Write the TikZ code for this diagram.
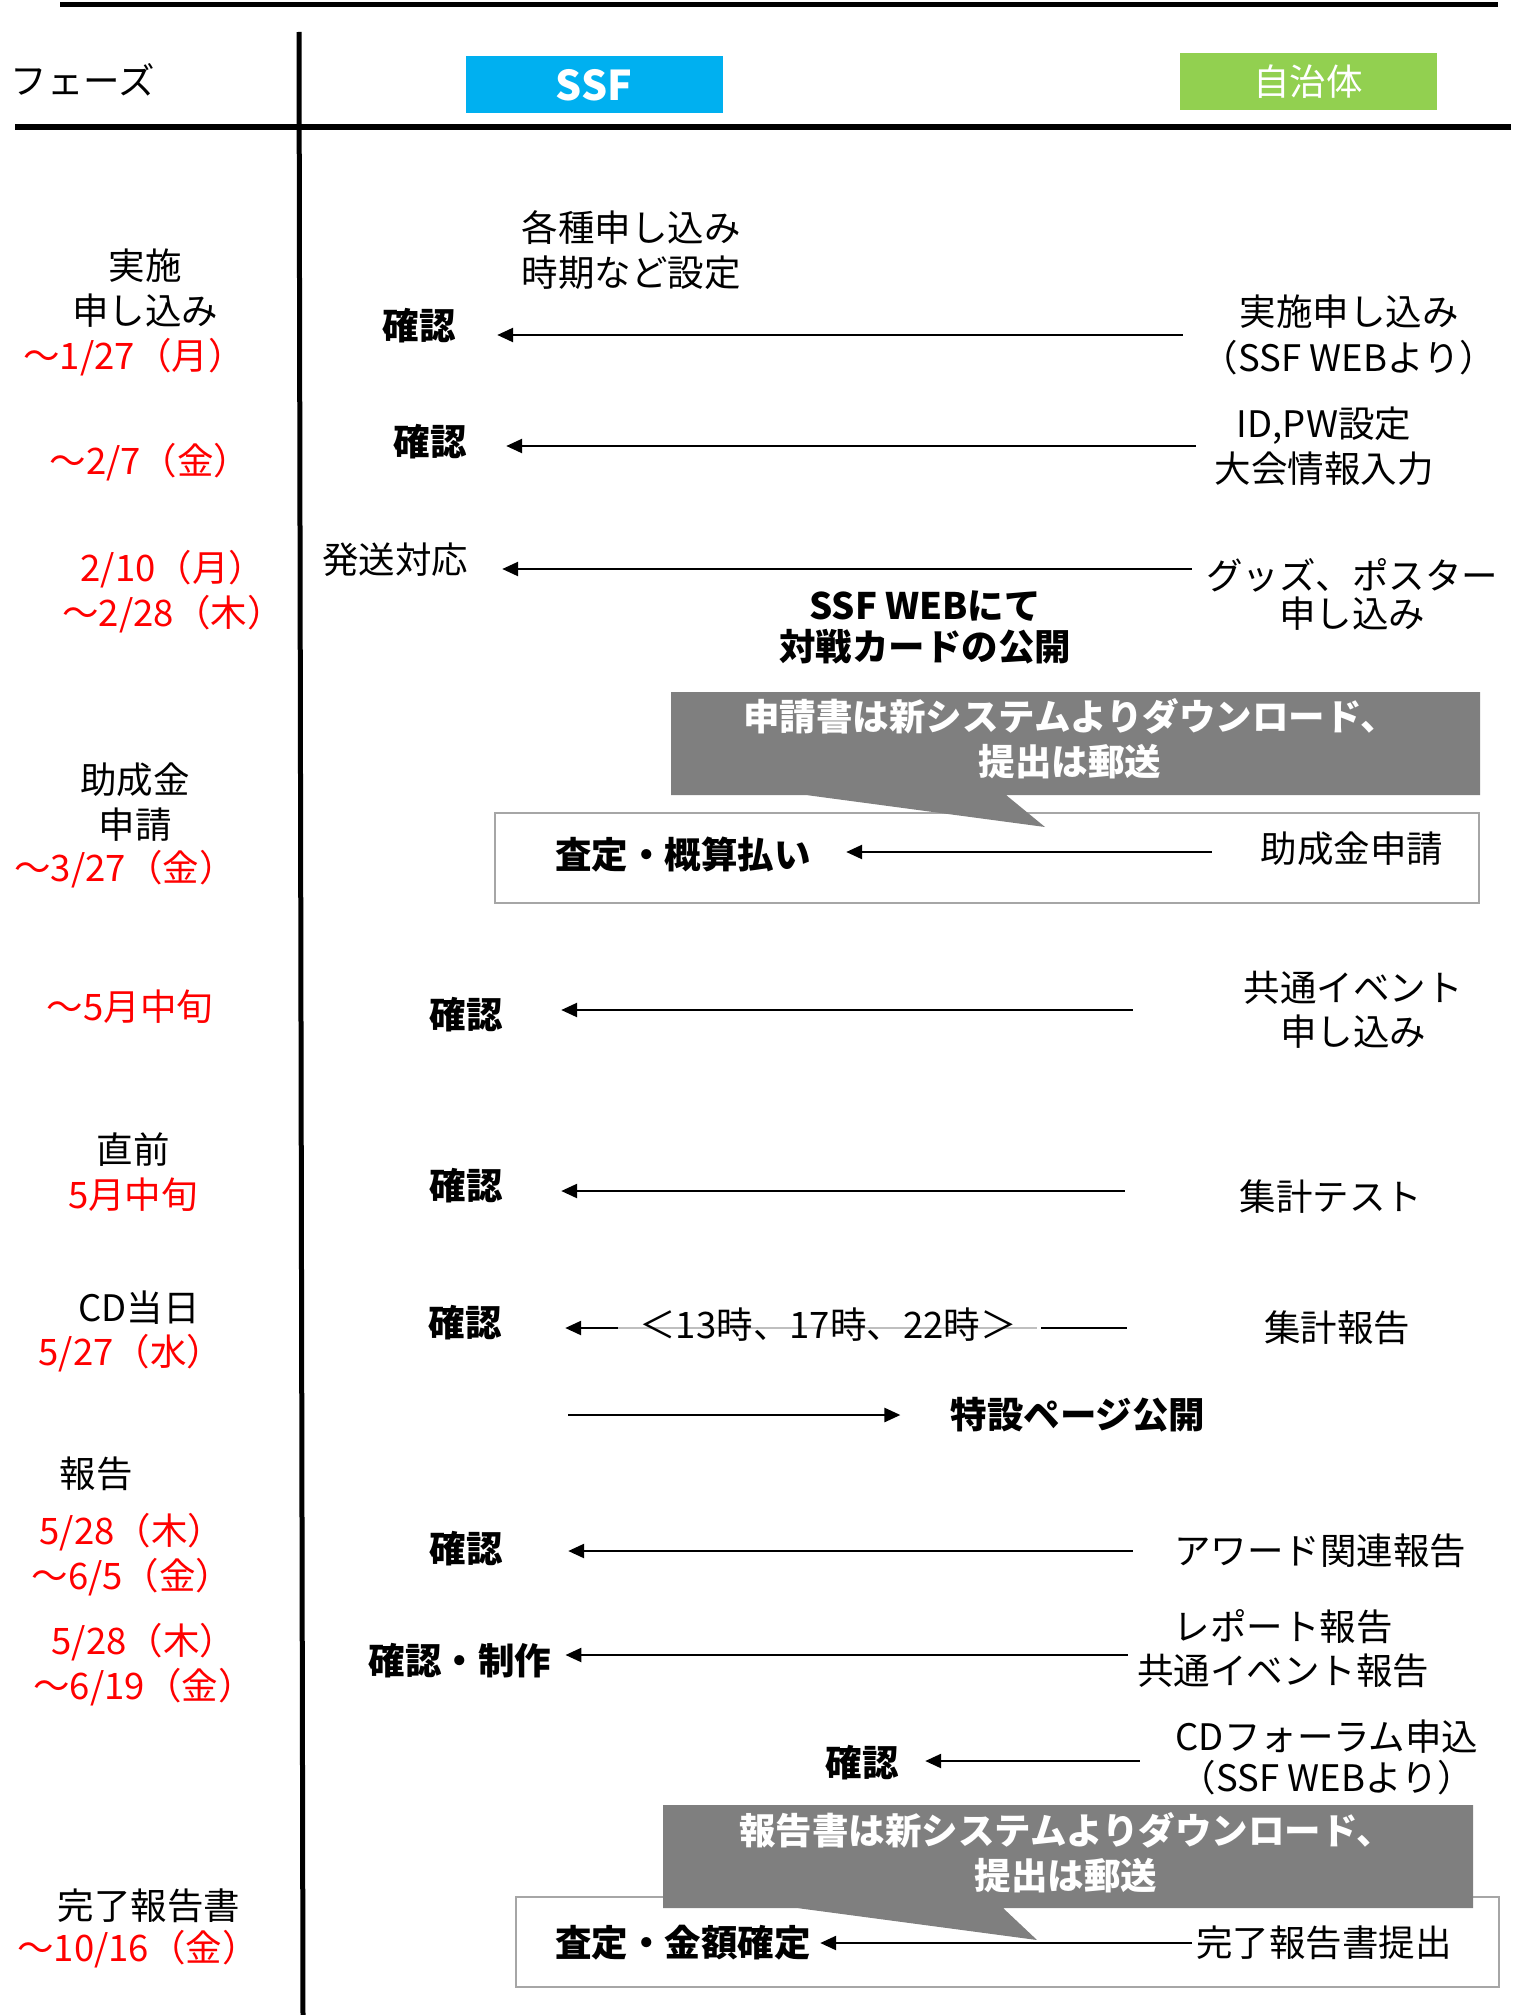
\documentclass[tikz,border=0pt]{standalone}
\usepackage{fontspec}
\setmainfont{Noto Sans CJK JP}
\usetikzlibrary{arrows.meta,positioning}

\definecolor{ssfblue}{RGB}{0,176,240}
\definecolor{citygreen}{RGB}{146,208,80}
\definecolor{datered}{RGB}{255,0,0}
\definecolor{notegray}{RGB}{127,127,127}
\definecolor{framegray}{RGB}{166,166,166}
\definecolor{linegray}{RGB}{191,191,191}

\newcommand{\jfont}[1]{\fontsize{36.5pt}{#1}\selectfont}

\begin{document}
\begin{tikzpicture}[x=1pt, y=-1pt,
    every node/.style={inner sep=0pt, align=center, font=\jfont{45pt}},
    act/.style={font=\jfont{45pt}\bfseries},
    date/.style={text=datered},
    arr/.style={line width=2.5pt, -{Triangle[length=16pt,width=14pt]}},
    link/.style={line width=2.5pt},
    frame/.style={draw=framegray, line width=1.5pt},
    note/.style={fill=notegray},
    notetext/.style={text=white, font=\jfont{#1}\bfseries},
    head/.style={minimum width=257pt, minimum height=57pt, text=white}]

        \useasboundingbox (0,0) rectangle (1524,2015);

        % header rows and column divider
        \draw[line width=5pt] (60,5) -- (1498,5);
        \draw[line width=6pt] (15,127) -- (1511,127);
        \draw[line width=5pt] (299,32) -- (303,2015);
        \node (phase) at (83,80) {フェーズ};
        \node[head, fill=ssfblue, font=\fontsize{41pt}{45pt}\selectfont\bfseries] (ssf) at (594,85) {SSF};
        \node[head, fill=citygreen] (city) at (1308,82) {自治体};

        % phases and deadlines
        \node (p1) at (145,288) {実施\\申し込み};
        \node[date] (d1) at (134,357) {～1/27（月）};
        \node[date] (d2) at (150,462) {～2/7（金）};
        \node[date] (d3) at (173,592) {2/10（月）\\～2/28（木）};
        \node (p4) at (135,802) {助成金\\申請};
        \node[date] (d4) at (125,869) {～3/27（金）};
        \node[date] (d5) at (130,1007) {～5月中旬};
        \node (p6) at (133,1150) {直前};
        \node[date] (d6) at (133,1195) {5月中旬};
        \node (p7) at (139,1308) {CD当日};
        \node[date] (d7) at (131,1353) {5/27（水）};
        \node (p8) at (96,1474) {報告};
        \node[date] (d8) at (132,1555) {5/28（木）\\～6/5（金）};
        \node[date] (d9) at (144,1665) {5/28（木）\\～6/19（金）};
        \node (p10) at (149,1906) {完了報告書};
        \node[date] (d10) at (138,1949) {～10/16（金）};

        % framed steps with notes on top
        \node[frame, minimum width=984pt, minimum height=90pt] (box1) at (987,858) {};
        \node[frame, minimum width=983pt, minimum height=90pt] (box2) at (1007.5,1942) {};
        \fill[note] (671,692) -- (1480,692) -- (1480,795) -- (1006,795) -- (1045,827) -- (806,795) -- (671,795) -- cycle;
        \fill[note] (663,1805) -- (1473,1805) -- (1473,1908) -- (1003,1908) -- (1037,1940) -- (797,1908) -- (663,1908) -- cycle;
        \node[notetext=45pt] (note1) at (1070,739) {申請書は新システムよりダウンロード、\\提出は郵送};
        \node[notetext=45pt] (note2) at (1066,1853) {報告書は新システムよりダウンロード、\\提出は郵送};

        % SSF side
        \node (s0) at (631,250) {各種申し込み\\時期など設定};
        \node[act] (s1) at (419,326) {確認};
        \node[act] (s2) at (430,442) {確認};
        \node (s3) at (395,560) {発送対応};
        \node[font=\jfont{41pt}\bfseries] (s3w) at (925,627) {SSF WEBにて\\対戦カードの公開};
        \node[act] (s4) at (683,855) {査定・概算払い};
        \node[act] (s5) at (466,1015) {確認};
        \node[act] (s6) at (466,1186) {確認};
        \node[act] (s7) at (465,1323) {確認};
        \node[act] (s8) at (1078,1415) {特設ページ公開};
        \node[act] (s9) at (466,1549) {確認};
        \node[act] (s10) at (460,1661) {確認・制作};
        \node[act] (s11) at (862,1763) {確認};
        \node[act] (s12) at (683,1943) {査定・金額確定};

        % municipality side
        \node[font=\jfont{46pt}] (j1) at (1349,335) {実施申し込み\\（SSF WEBより）};
        \node (j2) at (1324,446) {ID,PW設定\\大会情報入力};
        \node[font=\jfont{38pt}] (j3) at (1352,594) {グッズ、ポスター\\申し込み};
        \node (j4) at (1352,849) {助成金申請};
        \node[font=\jfont{44pt}] (j5) at (1353,1010) {共通イベント\\申し込み};
        \node (j6) at (1331,1197) {集計テスト};
        \node (j7) at (1337,1328) {集計報告};
        \node (j9) at (1320,1551) {アワード関連報告};
        \node[font=\jfont{44pt}] (j10) at (1283,1649) {レポート報告\\共通イベント報告};
        \node[font=\jfont{41pt}] (j11) at (1327,1757) {CDフォーラム申込\\（SSF WEBより）};
        \node (j12) at (1324,1943) {完了報告書提出};

        % hand-overs
        \draw[arr, shorten <=19pt, shorten >=41.5pt] (j1.west) -- (j1.west -| s1.east);
        \draw[arr, shorten <=18.5pt, shorten >=39.5pt] (j2.west) -- (j2.west -| s2.east);
        \draw[arr, shorten <=14pt, shorten >=34pt] ([yshift=25pt]j3.west) -- ([yshift=25pt]j3.west -| s3.east);
        \draw[arr, shorten <=48.75pt, shorten >=35.25pt] ([yshift=-3pt]j4.west) -- ([yshift=-3pt]j4.west -| s4.east);
        \draw[arr, shorten <=110.5pt, shorten >=58.5pt] (j5.west) -- (j5.west -| s5.east);
        \draw[arr, shorten <=114.75pt, shorten >=58.5pt] ([yshift=6pt]j6.west) -- ([yshift=6pt]j6.west -| s6.east);

        % report times on the day
        \draw[linegray, line width=2.5pt, shorten <=227pt, shorten >=116.5pt] (j7.west) -- (j7.west -| s7.east);
        \node (t7) at (828,1325) {＜13時、17時、22時＞};
        \draw[arr, shorten <=646pt, shorten >=63.5pt] (j7.west) -- (j7.west -| s7.east);
        \draw[link, shorten <=137pt, shorten >=539.5pt] (j7.west) -- (j7.west -| s7.east);

        \coordinate (pub) at (568,1415);
        \draw[arr, shorten >=50pt] (pub) -- (pub -| s8.west);

        \draw[arr, shorten <=41pt, shorten >=65.5pt] (j9.west) -- (j9.west -| s9.east);
        \draw[arr, shorten <=9pt, shorten >=14pt] ([yshift=-6pt]j10.west) -- ([yshift=-6pt]j10.west -| s10.east);
        \draw[arr, shorten <=35.5pt, shorten >=26.5pt] ([yshift=-4pt]j11.west) -- ([yshift=-4pt]j11.west -| s11.east);
        \draw[arr, shorten <=4pt, shorten >=9.25pt] (j12.west) -- (j12.west -| s12.east);

\end{tikzpicture}
\end{document}
